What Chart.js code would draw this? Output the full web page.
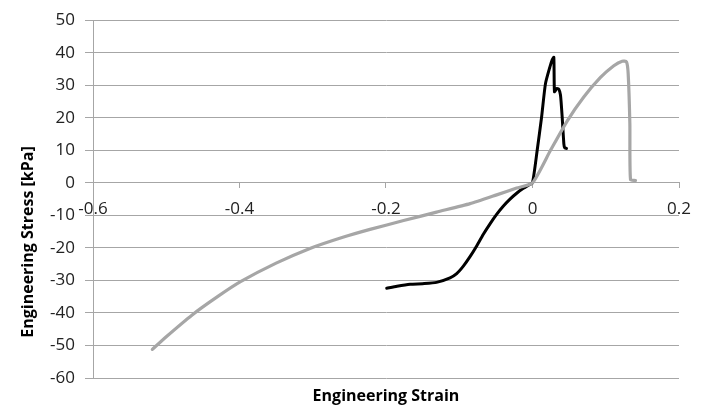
<!DOCTYPE html>
<html>
<head>
<meta charset="utf-8">
<script src="https://cdn.jsdelivr.net/npm/chart.js@4/dist/chart.umd.min.js"></script>
<style>
  html, body { margin: 0; padding: 0; background: #ffffff; }
  #wrap { width: 707px; height: 406px; position: relative; }
</style>
</head>
<body>
<div id="wrap"><canvas id="chart" width="707" height="406"></canvas></div>
<script>
// Axis ticks
const xTicks = [-0.6, -0.4, -0.2, 0, 0.2];
const yTicks = [-60, -50, -40, -30, -20, -10, 0, 10, 20, 30, 40, 50];

// Grey specimen: strain / stress [kPa]
const greyStrain = [-0.519, -0.50, -0.4646, -0.43, -0.3986, -0.35, -0.303, -0.26, -0.2218, -0.176,
  -0.131, -0.0853, -0.0489, -0.0216, 0, 0.0246, 0.0473, 0.07, 0.0928, 0.111,
  0.1224, 0.1283, 0.1306, 0.1329, 0.1338, 0.1406];
const greyStress = [-51.2, -47.3, -40.6, -35.0, -30.4, -24.7, -20.1, -16.8, -14.3, -11.6,
  -9.0, -6.4, -3.7, -1.6, 0, 10.0, 19.0, 26.4, 32.4, 36.0,
  37.4, 37.2, 33.6, 18.3, 1.0, 0.7];

// Black specimen: strain / stress [kPa]
const blackStrain = [-0.199, -0.185, -0.167, -0.15, -0.131, -0.1126, -0.1035, -0.0944, -0.0853, -0.0762,
  -0.0671, -0.058, -0.049, -0.040, -0.0307, -0.0216, -0.0125, -0.0045, 0, 0.0064,
  0.0123, 0.0177, 0.0237, 0.0269, 0.0291, 0.0300, 0.0330, 0.0359, 0.0382, 0.0405,
  0.0428, 0.0440, 0.0464];
const blackStress = [-32.4, -31.8, -31.2, -31.0, -30.6, -29.2, -27.9, -25.6, -22.7, -19.4,
  -15.8, -12.6, -9.7, -7.2, -5.0, -3.2, -1.7, -0.6, 0, 10,
  20, 30.5, 35.6, 37.8, 38.6, 28.0, 29.0, 28.8, 27.0, 20.3,
  12.0, 10.8, 10.6];

const xTitle = 'Engineering Strain';
const yTitle = 'Engineering Stress [kPa]';

const toPoints = (xs, ys) => xs.map((x, i) => ({ x: x, y: ys[i] }));

const FONT = '"Open Sans", "DejaVu Sans", sans-serif';
const GRID = '#a6a6a6';

// Axis titles drawn beside the plot
const axisTitles = {
  id: 'axisTitles',
  afterDraw(chart) {
    const ctx = chart.ctx;
    ctx.save();
    ctx.fillStyle = '#000000';
    ctx.font = 'bold 16px ' + FONT;
    ctx.textAlign = 'center';
    ctx.textBaseline = 'alphabetic';
    const area = chart.chartArea;
    ctx.fillText(xTitle, (area.left + area.right) / 2, 401);
    ctx.translate(33, 242);
    ctx.rotate(-Math.PI / 2);
    ctx.fillText(yTitle, 0, 0);
    ctx.restore();
  }
};

new Chart(document.getElementById('chart'), {
  type: 'scatter',
  data: {
    datasets: [
      {
        data: toPoints(greyStrain, greyStress),
        showLine: true,
        borderColor: '#a6a6a6',
        borderWidth: 3.2,
        pointRadius: 0,
        tension: 0.2,
        borderJoinStyle: 'round',
        borderCapStyle: 'round'
      },
      {
        data: toPoints(blackStrain, blackStress),
        showLine: true,
        borderColor: '#000000',
        borderWidth: 3,
        pointRadius: 0,
        tension: 0.2,
        borderJoinStyle: 'round',
        borderCapStyle: 'round'
      }
    ]
  },
  options: {
    responsive: false,
    animation: false,
    devicePixelRatio: 1,
    layout: { padding: { top: 20, right: 28, bottom: 28, left: 0 } },
    plugins: {
      legend: { display: false },
      tooltip: { enabled: false }
    },
    scales: {
      x: {
        type: 'linear',
        position: { y: 0 },
        min: -0.6,
        max: 0.2,
        afterBuildTicks: s => { s.ticks = xTicks.map(v => ({ value: v })); },
        grid: { drawOnChartArea: false, drawTicks: true, tickLength: 5, color: GRID },
        border: { display: true, color: GRID, width: 1 },
        ticks: {
          padding: 11,
          color: '#222222',
          font: { family: FONT, size: 17 },
          maxRotation: 0,
          callback: v => String(Math.round(v * 10) / 10)
        }
      },
      y: {
        type: 'linear',
        min: -60,
        max: 50,
        afterBuildTicks: s => { s.ticks = yTicks.map(v => ({ value: v })); },
        afterFit: s => { s.width = 93; },
        grid: { color: GRID, lineWidth: 1, drawTicks: true, tickLength: 8 },
        border: { display: true, color: GRID, width: 1 },
        ticks: {
          padding: 10,
          color: '#222222',
          font: { family: FONT, size: 17 },
          callback: v => String(v)
        }
      }
    }
  },
  plugins: [axisTitles]
});
</script>
</body>
</html>
